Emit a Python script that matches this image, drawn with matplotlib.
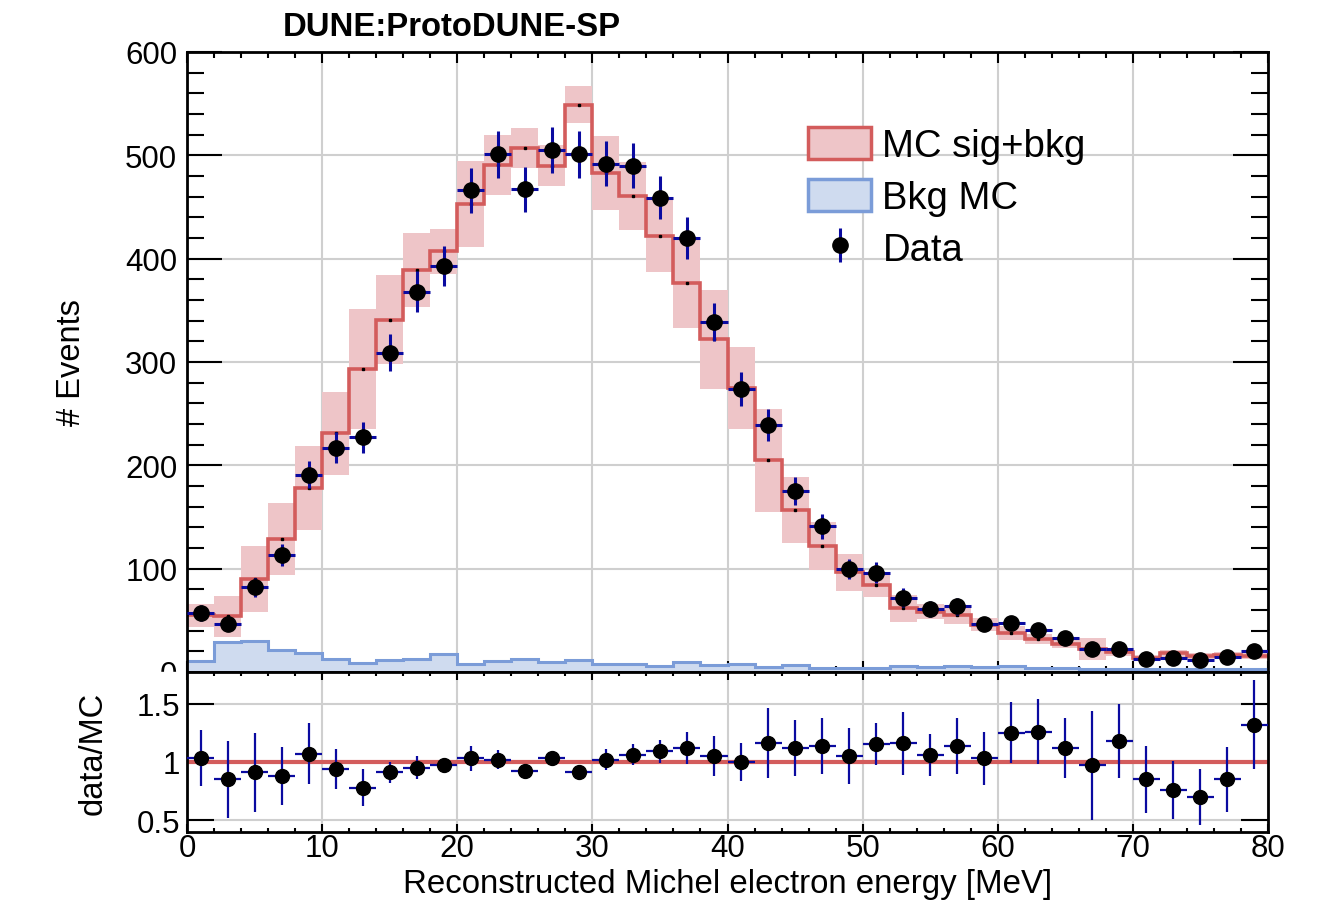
import numpy as np
import matplotlib
matplotlib.use("Agg")
import matplotlib.pyplot as plt
from matplotlib.patches import Patch, Rectangle
from matplotlib.lines import Line2D
from matplotlib.legend_handler import HandlerTuple
from matplotlib.ticker import MultipleLocator

plt.rcParams["font.family"] = ["Liberation Sans", "DejaVu Sans"]

# 2 MeV bins from 0 to 80 MeV
edges = np.arange(0, 82, 2)
centers = edges[:-1] + 1

data = [57, 46, 82, 113, 191, 217, 227, 309, 368, 393,
        466, 501, 467, 505, 501, 492, 490, 459, 420, 339,
        274, 239, 175, 141, 100, 96, 72, 61, 63.5, 46.5,
        47.4, 40.6, 32.6, 22, 22, 12.6, 13.5, 11.6, 15, 20]
data_err = [7.5, 6.8, 9, 10.8, 13, 14.8, 14.8, 17.7, 19.7, 19.7,
            21.7, 22.5, 21.7, 22.5, 22.5, 22, 22, 21, 20.5, 18.3,
            16.4, 15.2, 13.4, 12.2, 9.8, 10, 9.3, 8, 8, 7,
            7, 6.5, 6, 5, 5, 3.5, 3.5, 3.3, 3.7, 4.5]
mc = [55, 54, 90, 129, 178, 231, 293, 341, 389, 407,
      453, 491, 507, 490, 549, 483, 461, 422, 376, 322,
      275, 205, 157, 122, 96.5, 84, 61.5, 58.4, 55, 45.8,
      37.7, 31.9, 27, 22.3, 19.7, 13.5, 18, 15.8, 16.5, 15.2]
mc_err = [11, 20, 32, 35, 41, 40, 58, 43, 36, 22,
          42, 29, 19, 20, 18, 36, 33, 35, 43, 48,
          40, 50, 32, 23, 18, 11, 13, 7, 9, 6.5,
          7, 5, 3.5, 10.5, 4, 3, 3.5, 3, 3, 3]
bkg = [11, 29, 30, 21, 18, 13, 9, 12, 13, 17,
       8, 11, 13, 10, 12, 8, 8, 6, 10, 7,
       8, 5, 7, 4, 4, 4, 6, 4.5, 6, 4.5,
       6, 4, 3.5, 3, 2.5, 2.5, 2.5, 2.5, 2.5, 2.5]

ratio = [1.03, 0.85, 0.91, 0.88, 1.07, 0.94, 0.78, 0.91, 0.95, 0.97,
         1.03, 1.02, 0.92, 1.03, 0.91, 1.02, 1.06, 1.09, 1.12, 1.05,
         1.00, 1.16, 1.12, 1.14, 1.05, 1.15, 1.16, 1.06, 1.14, 1.03,
         1.25, 1.26, 1.12, 0.97, 1.18, 0.85, 0.76, 0.70, 0.85, 1.32]
ratio_err = [0.24, 0.33, 0.34, 0.25, 0.26, 0.17, 0.16, 0.09, 0.10, 0.04,
             0.11, 0.08, 0.04, 0.04, 0.04, 0.09, 0.09, 0.10, 0.14, 0.17,
             0.16, 0.30, 0.24, 0.24, 0.24, 0.18, 0.27, 0.18, 0.24, 0.23,
             0.26, 0.28, 0.26, 0.47, 0.32, 0.29, 0.25, 0.24, 0.28, 0.38]

RED = "#d35c5c"
PINK = "#eec5c8"
BLUE = "#7b9cd8"
BLUE_FILL = "#cfdbef"
ERR = "#0a0aa0"
GRID = "#cfcfcf"

data = np.array(data)
mc = np.array(mc)
mc_err = np.array(mc_err)

W, H = 1332, 912
fig = plt.figure(figsize=(W / 100, H / 100), dpi=100)
left, right = 187, 1268
ax = fig.add_axes([left / W, 1 - 673 / H, (right - left) / W, (673 - 53) / H])
rax = fig.add_axes([left / W, 1 - 833 / H, (right - left) / W, (833 - 673) / H])
ax.set_zorder(1)
rax.set_zorder(3)
# hide lower half of the "0" label like the ROOT pad split
fig.patches.append(Rectangle((0, 1 - 695 / H), left / W - 0.002, 22 / H,
                             transform=fig.transFigure, color="white", zorder=2))

# ---- main panel
ax.bar(centers, 2 * mc_err, bottom=mc - mc_err, width=2, color=PINK, lw=0, zorder=2)
ax.stairs(bkg, edges, fill=True, color=BLUE_FILL, lw=0, zorder=2.2)
ax.stairs(bkg, edges, baseline=None, color=BLUE, lw=2.2, zorder=2.3)
ax.stairs(mc, edges, baseline=None, color=RED, lw=2.6, zorder=2.5)
ax.plot(centers, mc, "s", ms=1.6, color="k", zorder=2.6)
ax.errorbar(centers, data, yerr=data_err, xerr=1, fmt="none", ecolor=ERR,
            elinewidth=2.2, capsize=0, zorder=3)
ax.plot(centers, data, "o", color="k", ms=11, zorder=4)

ax.set_xlim(0, 80)
ax.set_ylim(0, 600)
ax.xaxis.set_major_locator(MultipleLocator(10))
ax.xaxis.set_minor_locator(MultipleLocator(2))
ax.yaxis.set_major_locator(MultipleLocator(100))
ax.yaxis.set_minor_locator(MultipleLocator(20))
ax.tick_params(axis="both", which="both", direction="in", top=True, right=True,
               width=1.5, labelsize=22.5)
ax.tick_params(axis="y", which="major", length=25, pad=7)
ax.tick_params(axis="y", which="minor", length=12.5)
ax.tick_params(axis="x", which="major", length=8, labelbottom=False)
ax.tick_params(axis="x", which="minor", length=4)
ax.grid(True, which="major", color=GRID, lw=1.5)
ax.set_axisbelow(True)
for s in ax.spines.values():
    s.set_linewidth(2)

ax.set_ylabel("# Events", fontsize=23.5)
ax.yaxis.set_label_coords((71 - left) / (right - left), 0.5)
ax.yaxis.label.set_va("center")

h_mc = Patch(facecolor=PINK, edgecolor=RED, lw=2.5)
h_bkg = Patch(facecolor=BLUE_FILL, edgecolor=BLUE, lw=2.5)
h_data = (Line2D([], [], marker="|", ms=24, mew=2.2, color=ERR, ls="none"),
          Line2D([], [], marker="o", ms=11, color="k", ls="none"))
ax.legend([h_mc, h_bkg, h_data], ["MC sig+bkg", "Bkg MC", "Data"],
          handler_map={tuple: HandlerTuple(ndivide=1, pad=0)},
          loc="upper left", bbox_to_anchor=((808 - left) / (right - left), (673 - 128) / 620),
          frameon=False, fontsize=27.5, borderpad=0, borderaxespad=0,
          handlelength=1.65, handleheight=0.93, handletextpad=0.3, labelspacing=0.38)

# ---- ratio panel
rax.axhline(1, color=RED, lw=3, zorder=2)
rax.errorbar(centers, ratio, yerr=ratio_err, xerr=1, fmt="none", ecolor=ERR,
             elinewidth=1.6, capsize=0, zorder=3)
rax.plot(centers, ratio, "o", color="k", ms=10, zorder=4)
rax.set_xlim(0, 80)
rax.set_ylim(0.4, 1.77)
rax.set_yticks([0.5, 1, 1.5])
rax.set_yticklabels(["0.5", "1", "1.5"])
rax.xaxis.set_major_locator(MultipleLocator(10))
rax.xaxis.set_minor_locator(MultipleLocator(2))
rax.tick_params(axis="both", which="both", direction="in", top=True, right=True,
                width=1.5, labelsize=22.5)
rax.tick_params(axis="y", which="major", length=19.5, pad=5)
rax.tick_params(axis="y", which="minor", left=False, right=False)
rax.tick_params(axis="x", which="major", length=6, pad=1)
rax.tick_params(axis="x", which="minor", length=3)
rax.grid(True, which="major", color=GRID, lw=1.5)
rax.set_axisbelow(True)
for s in rax.spines.values():
    s.set_linewidth(2)

rax.set_xlabel("Reconstructed Michel electron energy [MeV]", fontsize=23.8)
rax.xaxis.set_label_coords(0.5, (833 - 885) / 160)
rax.xaxis.label.set_va("center")
rax.set_ylabel("data/MC", fontsize=23.5)
rax.yaxis.set_label_coords((93 - left) / (right - left), 0.5)
rax.yaxis.label.set_va("center")

fig.text(283 / W, 1 - 27 / H, "DUNE:ProtoDUNE-SP", fontsize=23.7, fontweight="bold",
         ha="left", va="center")

fig.savefig("out.png", dpi=100)
